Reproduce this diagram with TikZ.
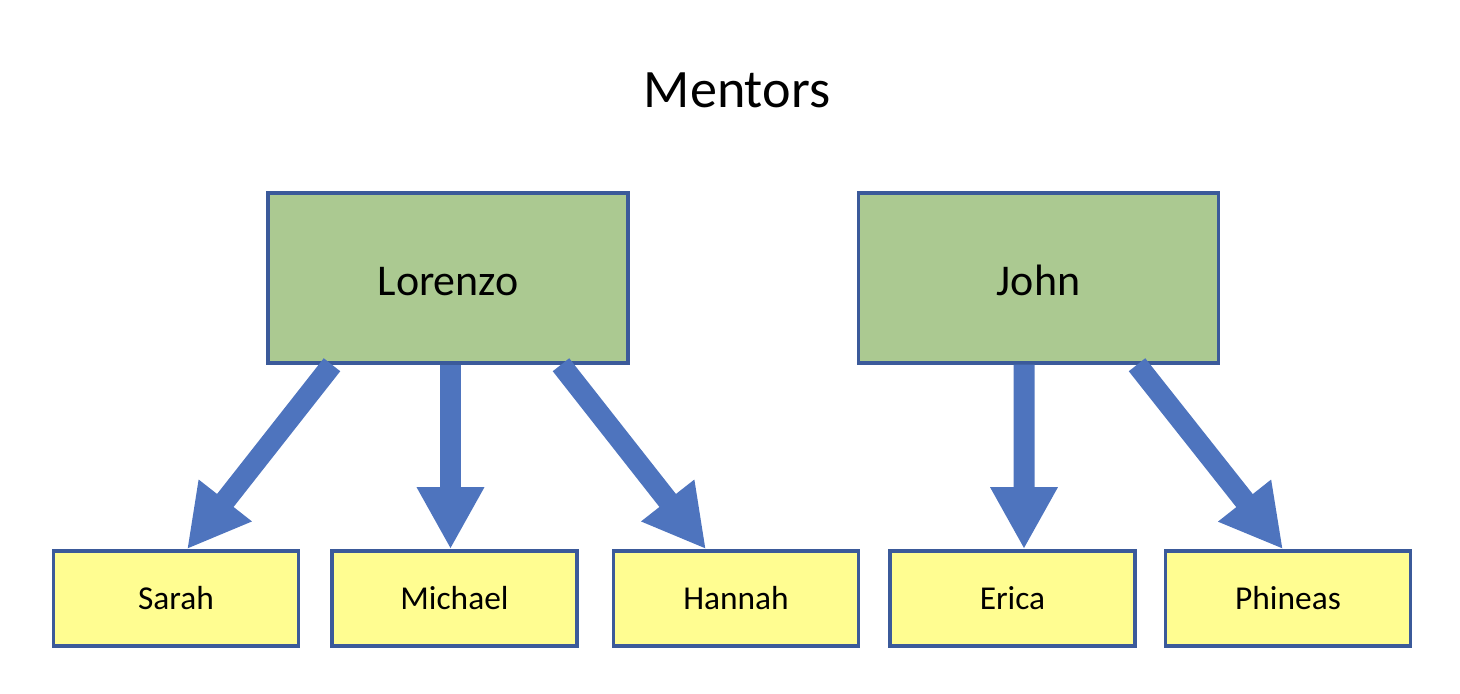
\documentclass[tikz,border=0pt]{standalone}
\usepackage{fontspec}
\setmainfont{Carlito}
\usepackage{xcolor}
\usepackage{tikz}
\usetikzlibrary{arrows.meta,positioning}

\definecolor{mentorgreen}{HTML}{ABC991}
\definecolor{menteeyellow}{HTML}{FFFD91}
\definecolor{boxblue}{HTML}{3B5A9A}
\definecolor{arrowblue}{HTML}{4E74BE}

\begin{document}
\begin{tikzpicture}[>={Triangle[width=6.3mm,length=6.2mm]},
  mentor/.style={draw=boxblue, line width=1pt, fill=mentorgreen, minimum width=3.6cm, minimum height=1.7cm, text height=9.8pt, text depth=0pt, font=\fontsize{12.5}{15}\selectfont},
  mentee/.style={draw=boxblue, line width=1pt, fill=menteeyellow, minimum width=2.45cm, minimum height=0.95cm, font=\fontsize{9.5}{11}\selectfont},
  link/.style={->, draw=arrowblue, line width=2.1mm}]
\useasboundingbox (0,0) rectangle (14.6,6.94);
\node[inner sep=0pt, font=\fontsize{15.4}{18}\selectfont] (title) at (7.37,6.035) {Mentors};
\node[mentor] (Lorenzo) at (4.48,4.16) {Lorenzo};
\node[mentor] (John) at (10.385,4.16) {John};
\node[mentee] (Sarah) at (1.76,0.955) {Sarah};
\node[mentee] (Michael) at (4.545,0.955) {Michael};
\node[mentee] (Hannah) at (7.36,0.955) {Hannah};
\node[mentee] (Erica) at (10.125,0.955) {Erica};
\node[mentee] (Phineas) at (12.88,0.955) {Phineas};
\draw[link] ([xshift=-11.6mm]Lorenzo.south) -- ([xshift=1.1mm]Sarah.north);
\draw[link] ([xshift=0.25mm]Lorenzo.south) -- ([xshift=0.25mm]Lorenzo.south |- Michael.north);
\draw[link] ([xshift=11.3mm]Lorenzo.south) -- ([xshift=-3mm]Hannah.north);
\draw[link] ([xshift=-1.45mm]John.south) -- ([xshift=1.15mm]Erica.north);
\draw[link] ([xshift=9.85mm]John.south) -- ([xshift=-0.5mm]Phineas.north);
\end{tikzpicture}
\end{document}
